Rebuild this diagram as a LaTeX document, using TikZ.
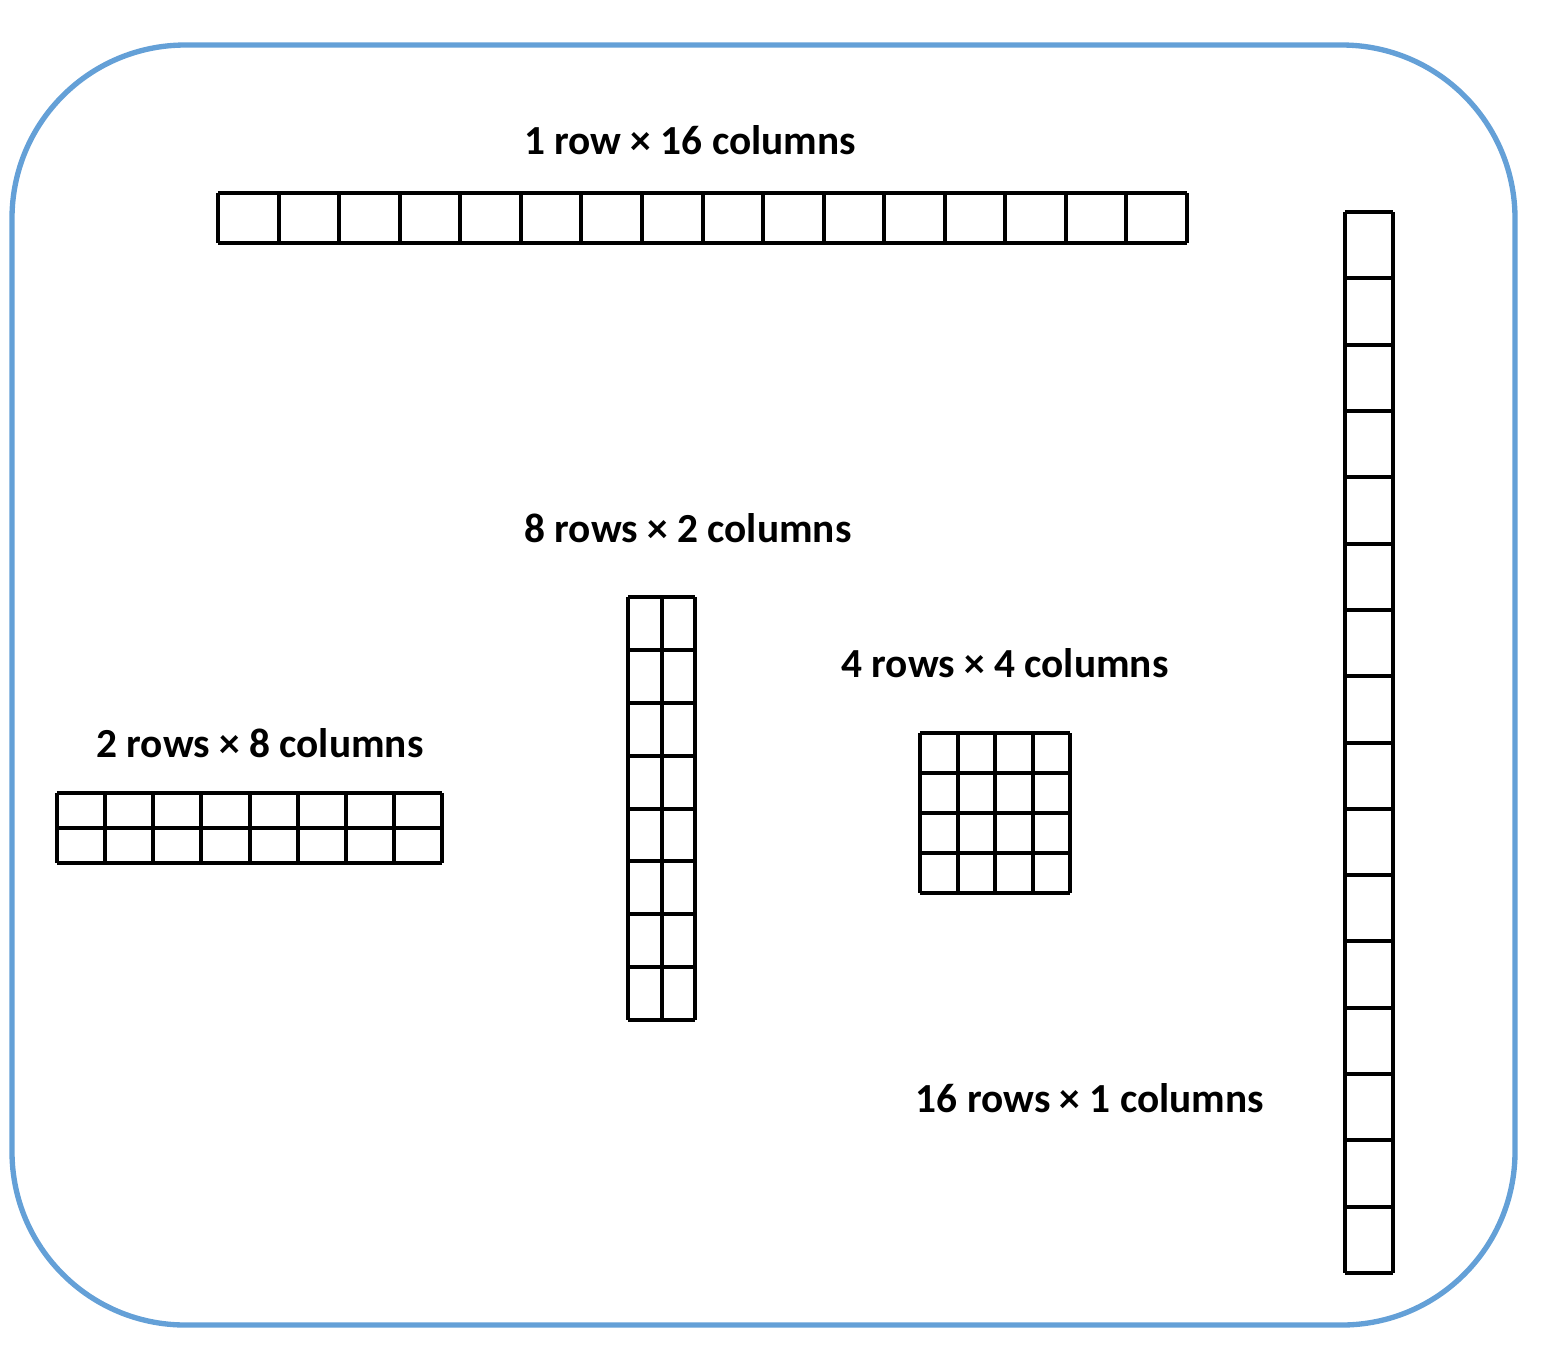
\documentclass[tikz,border=0pt]{standalone}
\usepackage{fontspec}
\setmainfont{Carlito}
\definecolor{frameblue}{RGB}{100,160,215}
\tikzset{lbl/.style={font=\bfseries\fontsize{31}{36}\selectfont,inner sep=0pt}, gl/.style={line width=3pt,black}}
\newcommand{\mygrid}[6]{% x0,y0,x1,y1,cols,rows
  \pgfmathsetmacro{\cw}{(#3-#1)/#5}\pgfmathsetmacro{\ch}{(#4-#2)/#6}
  \foreach \i in {0,...,#5}{\draw[gl] ({#1+\i*\cw},#2) -- ({#1+\i*\cw},#4);}
  \foreach \j in {0,...,#6}{\draw[gl] (#1,{#2+\j*\ch}) -- (#3,{#2+\j*\ch});}
}
\begin{document}
\begin{tikzpicture}[x=0.75pt,y=-0.75pt]
\useasboundingbox (0,0) rectangle (1544,1354);
\draw[frameblue,line width=4pt,rounded corners=130pt] (12,45) rectangle (1515,1325);
\mygrid{218}{193}{1187}{243}{16}{1}
\mygrid{1345}{212}{1393}{1273}{1}{16}
\mygrid{628}{597}{695}{1020}{2}{8}
\mygrid{920}{733}{1070}{893}{4}{4}
\mygrid{57}{793}{442}{863}{8}{2}
\node[lbl] (l1) at (690,140) {1 row × 16 columns};
\node[lbl] (l2) at (688,528) {8 rows × 2 columns};
\node[lbl] (l3) at (1005,663) {4 rows × 4 columns};
\node[lbl] (l4) at (260,743) {2 rows × 8 columns};
\node[lbl] (l5) at (1090,1098) {16 rows × 1 columns};
\end{tikzpicture}
\end{document}
